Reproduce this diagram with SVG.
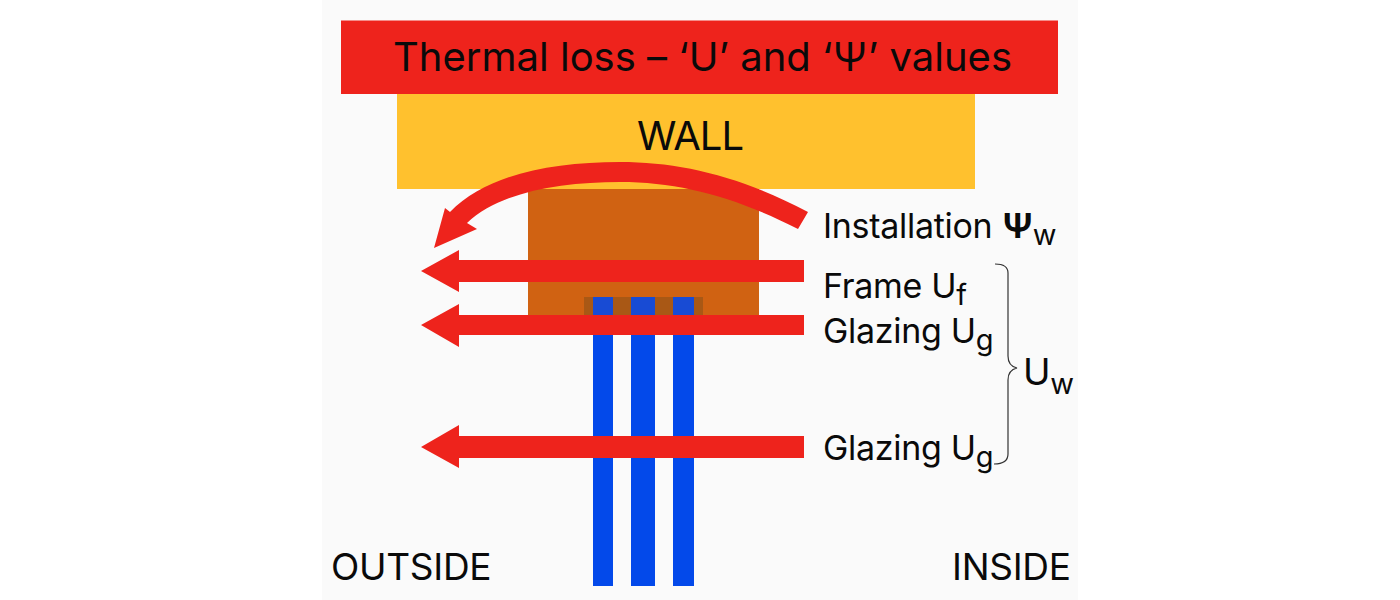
<svg xmlns="http://www.w3.org/2000/svg" width="1400" height="600" viewBox="0 0 1400 600">
  <style>
    text { font-family: "Inter", "Liberation Sans", sans-serif; fill: #0a0a0a; }
    .arrow { fill: #ee231c; }
    .glass { fill: #0349ea; }
    .lab { font-size: 34px; letter-spacing: -0.3px; }
    .sub { font-size: 29px; }
    .big { font-size: 37px; letter-spacing: -0.3px; }
  </style>
  <rect x="0" y="0" width="1400" height="600" fill="#ffffff"/>
  <rect x="322" y="0" width="756" height="600" fill="#fafafa"/>
  <g id="title">
    <rect x="341" y="20.500" width="717" height="73.500" fill="#ee231c"/>
    <text x="393" y="71" font-size="40" textLength="619" lengthAdjust="spacing">Thermal loss – ‘U’ and ‘Ψ’ values</text>
  </g>
  <g id="wall">
    <rect x="397" y="94" width="578" height="95" fill="#ffc12e"/>
    <text x="637" y="150" font-size="40" textLength="107" lengthAdjust="spacing">WALL</text>
  </g>
  <g id="glazing">
    <rect class="glass" x="593" y="297" width="20" height="289"/>
    <rect class="glass" x="631" y="297" width="24" height="289"/>
    <rect class="glass" x="673" y="297" width="21" height="289"/>
  </g>
  <g id="frame">
    <rect x="528" y="189" width="231" height="127" fill="#d06212"/>
    <rect x="584" y="297" width="9" height="19" fill="#a95815"/>
    <rect x="613" y="297" width="18" height="19" fill="#a95815"/>
    <rect x="655" y="297" width="18" height="19" fill="#a95815"/>
    <rect x="694" y="297" width="9" height="19" fill="#a95815"/>
    <rect class="glass" x="593" y="297" width="20" height="19" fill-opacity="0.9"/>
    <rect class="glass" x="631" y="297" width="24" height="19" fill-opacity="0.9"/>
    <rect class="glass" x="673" y="297" width="21" height="19" fill-opacity="0.9"/>
  </g>
  <g id="connectors">
    <path class="arrow" d="M808,212 C740,176 680,162 620,162 C548,162 485,176 450,212 L445,208 L434,248 L477,229 L467,223 C500,192 560,182 620,182 C680,182 735,197 798,229 Z"/>
    <polygon class="arrow" points="804,260 459,260 459,250 421,271 459,292 459,282 804,282"/>
    <polygon class="arrow" points="804,315 459,315 459,304 421,325 459,347 459,335 804,335"/>
    <polygon class="arrow" points="804,436 459,436 459,425 421,447 459,468 459,458 804,458"/>
    <path d="M995,264 Q1008,264 1008,273 L1008,356 Q1008,366 1017,368 Q1008,370 1008,380 L1008,454 Q1008,464 994,464" fill="none" stroke="#333333" stroke-width="1.200"/>
  </g>
  <g id="label-installation">
    <text class="lab" x="823" y="238">Installation <tspan font-weight="700" dx="1">Ψ</tspan><tspan class="sub" dy="7">w</tspan></text>
  </g>
  <g id="label-frame">
    <text class="lab" x="823" y="298">Frame U<tspan class="sub" dy="7">f</tspan></text>
  </g>
  <g id="label-glazing-1">
    <text class="lab" x="823" y="343">Glazing U<tspan class="sub" dy="7">g</tspan></text>
  </g>
  <g id="label-glazing-2">
    <text class="lab" x="823" y="460">Glazing U<tspan class="sub" dy="7">g</tspan></text>
  </g>
  <g id="label-uw">
    <text class="big" x="1023" y="385">U<tspan class="sub" dy="9">w</tspan></text>
  </g>
  <g id="label-outside">
    <text class="big" x="331" y="580">OUTSIDE</text>
  </g>
  <g id="label-inside">
    <text class="big" x="952" y="580">INSIDE</text>
  </g>
</svg>
